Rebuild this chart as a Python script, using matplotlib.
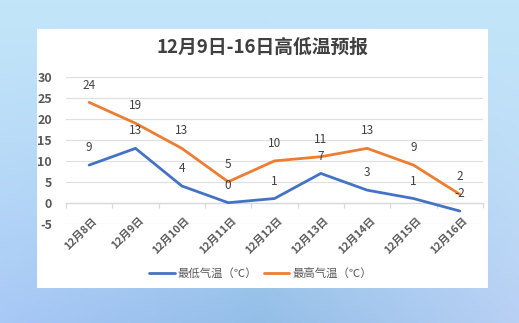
import numpy as np
import matplotlib
matplotlib.use("Agg")
import matplotlib.pyplot as plt
from matplotlib.patches import Rectangle
import matplotlib.transforms as mtransforms

plt.rcParams['font.family'] = ['Noto Sans CJK SC', 'DejaVu Sans']

# Forecast data
dates = ["12月8日", "12月9日", "12月10日", "12月11日", "12月12日",
         "12月13日", "12月14日", "12月15日", "12月16日"]
low_temp = [9, 13, 4, 0, 1, 7, 3, 1, -2]
high_temp = [24, 19, 13, 5, 10, 11, 13, 9, 2]
y_ticks = [-5, 0, 5, 10, 15, 20, 25, 30]
title = "12月9日-16日高低温预报"
series_names = ["最低气温（℃）", "最高气温（℃）"]

W, H = 519, 323
fig = plt.figure(figsize=(W / 100, H / 100), dpi=100)

# Soft blue gradient backdrop
bg = fig.add_axes([0, 0, 1, 1])
bg.set_axis_off()
ny, nx = 100, 160
yy = np.linspace(0, 1, ny)[:, None, None]
xx = np.linspace(0, 1, nx)[None, :, None]
top = np.array([194, 229, 249]) / 255
bl = np.array([168, 200, 246]) / 255
bm = np.array([148, 190, 232]) / 255
br = np.array([184, 208, 244]) / 255
bottom = np.where(xx < 0.5,
                  bl + (bm - bl) * (xx / 0.5),
                  bm + (br - bm) * ((xx - 0.5) / 0.5))
t = yy ** 1.3
img = top * (1 - t) + bottom * t
bg.imshow(img, aspect='auto', extent=[0, 1, 0, 1], origin='upper')
bg.set_xlim(0, 1)
bg.set_ylim(0, 1)

# White chart panel
bg.add_patch(Rectangle((37 / W, 1 - 288 / H), (488 - 37) / W, (288 - 29) / H,
                       facecolor='white', edgecolor='none'))

fig.text(263 / W, 1 - 47 / H, title, ha='center', va='center',
         fontsize=13.5, fontweight='bold', color='#404040')

ax = fig.add_axes([66 / W, 1 - 223.6 / H, 417 / W, (223.6 - 77.3) / H])
ax.set_facecolor('none')
x = np.arange(len(dates))

l1, = ax.plot(x, low_temp, color='#4472C4', lw=2.0, solid_capstyle='round',
              solid_joinstyle='round', zorder=3)
l2, = ax.plot(x, high_temp, color='#ED7D31', lw=2.0, solid_capstyle='round',
              solid_joinstyle='round', zorder=3)

for xi, v in zip(x, low_temp):
    ax.annotate(str(v), (xi, v), xytext=(0, 12.5), textcoords='offset points',
                ha='center', va='center', fontsize=8.5, color='#404040', zorder=4)
for xi, v in zip(x, high_temp):
    ax.annotate(str(v), (xi, v), xytext=(0, 12.5), textcoords='offset points',
                ha='center', va='center', fontsize=8.5, color='#404040', zorder=4)

ax.set_xlim(-0.5, len(dates) - 0.5)
ax.set_ylim(-5, 30)
ax.set_yticks(y_ticks)
ax.set_yticklabels([str(v) for v in y_ticks], fontsize=9, fontweight='bold',
                   color='#595959')
ax.tick_params(axis='y', length=0, pad=10)
ax.grid(axis='y', color='#e0e0e0', lw=0.9, zorder=0)

for s in ['top', 'right', 'left']:
    ax.spines[s].set_visible(False)
ax.spines['bottom'].set_position(('data', 0))
ax.spines['bottom'].set_color('#d9d9d9')
ax.spines['bottom'].set_linewidth(0.9)

# Category boundary ticks on the zero line, labels at category centres
ax.set_xticks(np.arange(-0.5, len(dates), 1.0))
ax.set_xticklabels([])
ax.tick_params(axis='x', which='major', length=3.5, color='#d9d9d9', width=0.9)
ax.set_xticks(x, minor=True)
ax.set_xticklabels(dates, minor=True, rotation=45, ha='right', va='top',
                   rotation_mode='anchor', fontsize=7.8, fontweight='bold',
                   color='#595959')
ax.tick_params(axis='x', which='minor', length=0, pad=9)
offset = mtransforms.ScaledTranslation(2 / 72, 0, fig.dpi_scale_trans)
for lab in ax.get_xticklabels(minor=True):
    lab.set_transform(lab.get_transform() + offset)

fig.legend([l1, l2], series_names, loc='center', bbox_to_anchor=(261 / W, 1 - 273 / H),
           ncol=2, frameon=False, fontsize=8.2, labelcolor='#595959',
           handlelength=2.2, columnspacing=0.6, handletextpad=0.3)

fig.savefig("out.png", dpi=100)
